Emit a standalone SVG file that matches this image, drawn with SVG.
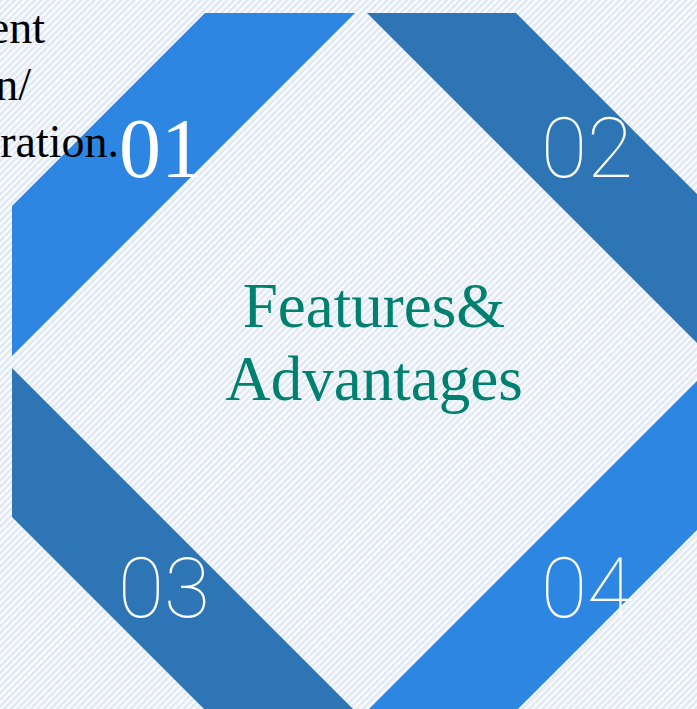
<svg xmlns="http://www.w3.org/2000/svg" width="697" height="709" viewBox="0 0 697 709">
  <defs>
    <pattern id="hatch" patternUnits="userSpaceOnUse" width="4.7" height="10" patternTransform="rotate(45)">
      <rect width="4.7" height="10" fill="#fbfcfe"/>
      <rect x="0" y="0" width="2.4" height="10" fill="#dfe8f4"/>
    </pattern>
  </defs>
  <style>
    .light { fill: #2e86e3; }
    .dark { fill: #2e75b6; }
    .num { fill: #ffffff; font-size: 84px; }
    .serifnum { font-family: "Liberation Serif", "Times New Roman", serif; }
    .thin { font-family: Roboto, "Liberation Sans", sans-serif; font-weight: 100; }
    .title { fill: #00806f; font-family: "Liberation Serif", "Times New Roman", serif; font-size: 63px; text-anchor: middle; }
    .side { fill: #000000; font-family: "Liberation Serif", "Times New Roman", serif; font-size: 46px; text-anchor: end; }
  </style>
  <rect width="697" height="709" fill="url(#hatch)"/>

  <g id="band-01">
    <polygon class="light" points="205,13 355,13 12,356 12,206"/>
    <text class="num serifnum" x="119" y="177">01</text>
  </g>

  <g id="side-text">
    <text class="side" x="45" y="43">ent</text>
    <text class="side" x="31" y="100">n/</text>
    <text class="side" x="119" y="157">ration.</text>
  </g>

  <g id="band-02">
    <polygon class="dark" points="367,13 516,13 710,207 710,356"/>
    <text class="num thin" x="541" y="177">02</text>
  </g>

  <g id="band-03">
    <polygon class="dark" points="12,368 12,517 206,711 355,711"/>
    <text class="num thin" x="118" y="617">03</text>
  </g>

  <g id="band-04">
    <polygon class="light" points="367,711 516,711 710,517 710,368"/>
    <text class="num thin" x="541" y="617">04</text>
  </g>

  <g id="center">
    <text class="title" x="374" y="327">Features&amp;</text>
    <text class="title" x="374" y="400">Advantages</text>
  </g>

  <g id="connectors"/>
</svg>
